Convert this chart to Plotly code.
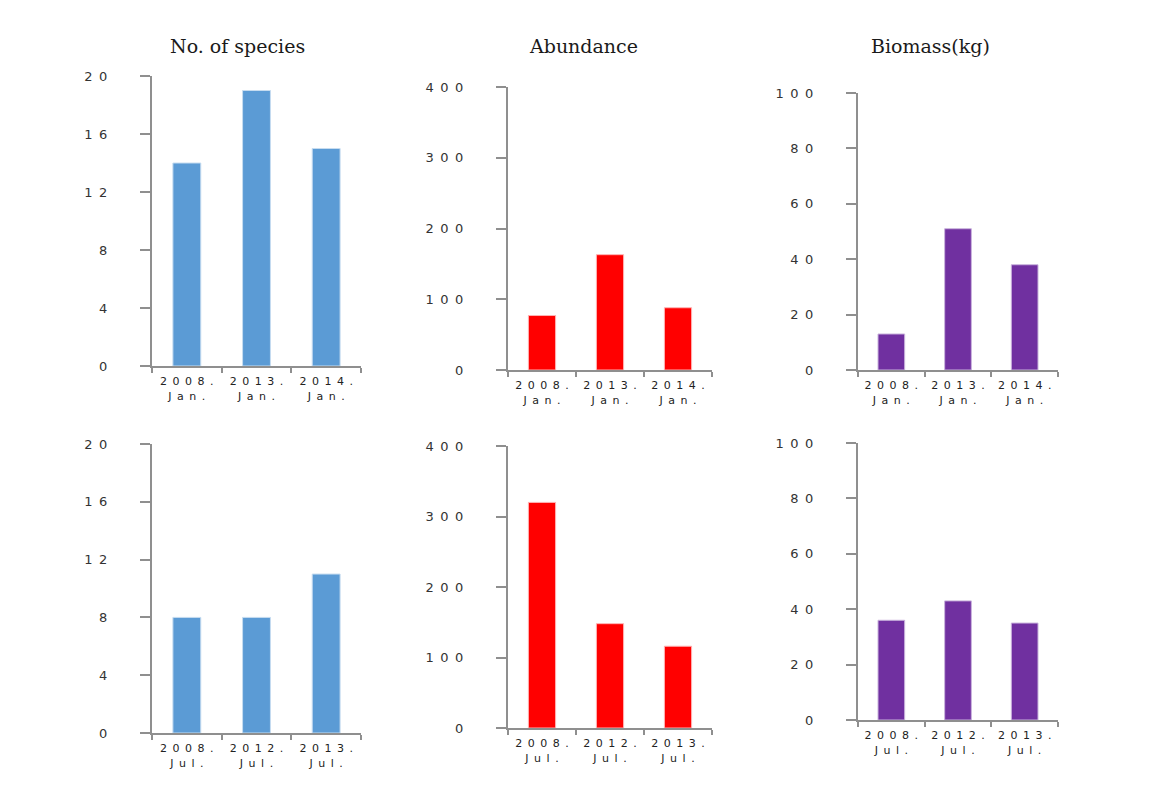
import plotly.graph_objects as go

W, H = 1163, 789

# ---- data ----
years_jan = ["2008.", "2013.", "2014."]
years_jul = ["2008.", "2012.", "2013."]
month_jan = "Jan."
month_jul = "Jul."

species_jan = [14, 19, 15]
species_jul = [8, 8, 11]
abundance_jan = [77, 163, 88]
abundance_jul = [320, 148, 116]
biomass_jan = [13, 51, 38]
biomass_jul = [36, 43, 35]

species_ticks = [0, 4, 8, 12, 16, 20]
abundance_ticks = [0, 100, 200, 300, 400]
biomass_ticks = [0, 20, 40, 60, 80, 100]

titles = ["No. of species", "Abundance", "Biomass(kg)"]

BLUE = "#5b9bd5"
RED = "#ff0000"
PURPLE = "#7030a0"
SP = "\u2002"


def spaced(s):
    return SP.join(list(str(s)))


def xlabel(year, month):
    return spaced(year) + "<br>" + spaced(month)


# panel geometry in pixels: (x0, x1) and (y_top_px, y_zero_px)
panels = [
    dict(vals=species_jan, years=years_jan, month=month_jan, ticks=species_ticks, color=BLUE, border="#c6dcf0", px=(152, 361), py=(76, 366)),
    dict(vals=abundance_jan, years=years_jan, month=month_jan, ticks=abundance_ticks, color=RED, border="#ffb3b3", px=(508, 712), py=(87, 370)),
    dict(vals=biomass_jan, years=years_jan, month=month_jan, ticks=biomass_ticks, color=PURPLE, border="#c9b3dc", px=(858, 1058), py=(93, 370)),
    dict(vals=species_jul, years=years_jul, month=month_jul, ticks=species_ticks, color=BLUE, border="#c6dcf0", px=(152, 361), py=(444, 733)),
    dict(vals=abundance_jul, years=years_jul, month=month_jul, ticks=abundance_ticks, color=RED, border="#ffb3b3", px=(508, 712), py=(446, 728)),
    dict(vals=biomass_jul, years=years_jul, month=month_jul, ticks=biomass_ticks, color=PURPLE, border="#c9b3dc", px=(858, 1058), py=(443, 720)),
]

fig = go.Figure()
layout = {}
ytick_font = dict(family="DejaVu Sans", size=13, color="#333333")
xtick_font = dict(family="DejaVu Sans", size=11, color="#222222")
axis_col = "#8f8f8f"

for i, p in enumerate(panels, start=1):
    xa = "x" if i == 1 else f"x{i}"
    ya = "y" if i == 1 else f"y{i}"
    cats = [xlabel(y, p["month"]) for y in p["years"]]
    fig.add_trace(go.Bar(
        x=cats, y=p["vals"], xaxis=xa, yaxis=ya,
        marker=dict(color=p["color"], line=dict(color=p["border"], width=1)),
        width=0.4, showlegend=False, hoverinfo="skip",
    ))
    x0, x1 = p["px"]
    ytop, yzero = p["py"]
    layout["xaxis" if i == 1 else f"xaxis{i}"] = dict(
        domain=[x0 / W, x1 / W], anchor=ya, automargin=False,
        type="category", range=[-0.5, 2.5], tickangle=0,
        showline=True, linecolor=axis_col, linewidth=2,
        ticks="outside", ticklen=5, tickwidth=2, tickcolor=axis_col,
        tickson="boundaries", ticklabelstandoff=4,
        showgrid=False, zeroline=False,
        tickfont=xtick_font, fixedrange=True,
    )
    layout["yaxis" if i == 1 else f"yaxis{i}"] = dict(
        domain=[1 - yzero / H, 1 - ytop / H], anchor=xa, automargin=False,
        range=[0, p["ticks"][-1]],
        tickmode="array", tickvals=p["ticks"], ticktext=[spaced(t) for t in p["ticks"]],
        showline=True, linecolor=axis_col, linewidth=2,
        ticks="outside", ticklen=10, tickwidth=2, tickcolor=axis_col,
        ticklabelstandoff=30,
        showgrid=False, zeroline=False, tickfont=ytick_font, fixedrange=True,
    )

annotations = []
for cx, t in zip([237, 583, 930], titles):
    annotations.append(dict(
        x=cx / W, y=1 - 46 / H, xref="paper", yref="paper",
        text=t, showarrow=False, xanchor="center", yanchor="middle",
        font=dict(family="DejaVu Serif", size=19, color="#1a1a1a"),
    ))

fig.update_layout(
    width=W, height=H,
    margin=dict(l=0, r=0, t=0, b=0, autoexpand=False),
    paper_bgcolor="white", plot_bgcolor="white",
    annotations=annotations,
    **layout,
)

fig.write_html("out.html")
